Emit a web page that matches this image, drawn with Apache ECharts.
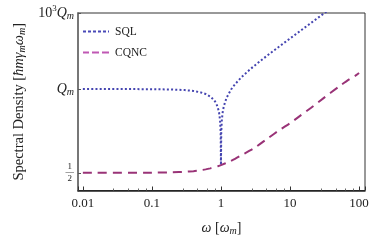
<!DOCTYPE html>
<html><head><meta charset="utf-8">
<script src="https://cdn.jsdelivr.net/npm/echarts@6/dist/echarts.min.js"></script>
<style>html,body{margin:0;padding:0;background:#fff}#c{width:374px;height:243px}</style>
</head><body><div id="c"></div>
<script>
// ---- data ----
const sqlOmega = [0.01, 0.05, 0.1, 0.2, 0.3, 0.4, 0.5, 0.6, 0.7, 0.8, 0.85, 0.9, 0.94, 0.97, 0.99, 1.0, 1.01, 1.03, 1.06, 1.1, 1.2, 1.4, 1.6, 2, 2.6, 3, 4, 5, 7, 10, 15, 20, 30, 40];
const sqlValues = [1000, 998, 990, 960, 910, 840, 750, 640, 510, 360, 278, 190, 116, 59, 20, 1, 20, 61, 124, 210, 440, 960, 1560, 3000, 5800, 8000, 15000, 24000, 48000, 99000, 224000, 400000, 900000, 1600000];
const cqncOmega = [0.01, 0.1, 0.2, 0.3, 0.4, 0.5, 0.6, 0.7, 0.8, 0.9, 1, 1.3, 1.6, 2, 3, 5, 7, 10, 12.5, 20, 30, 50, 70, 92, 100];
const cqncValues = [0.5, 0.505, 0.52, 0.545, 0.58, 0.625, 0.68, 0.745, 0.82, 0.905, 1.0, 1.35, 1.78, 2.5, 4.6, 12.5, 24, 45, 70, 180, 420, 1200, 2300, 3600, 4300];
const xTickLabels = ['0.01', '0.1', '1', '10', '100'];
const yLabelValues = [0.5, 1000, 1000000];
const seriesNames = ['SQL', 'CQNC'];

const serif = 'Liberation Serif';
const chart = echarts.init(document.getElementById('c'), null, {renderer: 'canvas'});
function yLabel(v) {
  if (Math.abs(v - 0.5) < 1e-6) return '{fr|1}\n{bar|──}\n{fr|2}';
  if (Math.abs(v - 1000) < 1e-3) return '{q|Q}{sub|m}';
  if (Math.abs(v - 1e6) < 1) return '{n|10}{sup|3}{q|Q}{sub|m}';
  return '';
}
const dotIcon = 'path://M0,0h3v2h-3zM5,0h3v2h-3zM10,0h3v2h-3zM15,0h3v2h-3zM20,0h3v2h-3zM25,0h1v2h-1z';
const dashIcon = 'path://M0,0h6v2h-6zM9,0h7v2h-7zM19,0h7v2h-7z';
chart.setOption({
  animation: false,
  grid: {left: 78, right: 9, top: 13, bottom: 52.5, show: true, borderColor: '#333', borderWidth: 1},
  legend: {
    orient: 'vertical', left: 83, top: 25.5, padding: 0, itemWidth: 26, itemHeight: 2, itemGap: 9,
    textStyle: {fontFamily: serif, fontSize: 11.5, color: '#222', padding: [0, 0, 0, 1]},
    data: [
      {name: seriesNames[0], icon: dotIcon, itemStyle: {color: '#4a4ab8'}},
      {name: seriesNames[1], icon: dashIcon, itemStyle: {color: '#c058b4'}}
    ]
  },
  xAxis: {
    type: 'log', logBase: 10, min: 0.0085, max: 122,
    axisLine: {lineStyle: {color: '#222', width: 1.5}},
    axisTick: {inside: true, length: 4, lineStyle: {color: '#333'}},
    minorTick: {show: true, splitNumber: 5, length: 2, lineStyle: {color: '#666'}},
    splitLine: {show: false},
    axisLabel: {fontFamily: serif, fontSize: 13, color: '#222', margin: 7,
      formatter: function (v) { const i = Math.round(Math.log10(v)) + 2; return xTickLabels[i] !== undefined ? xTickLabels[i] : ''; }},
    name: '{w|ω} {b|[}{w|ω}{s|m}{b|]}', nameLocation: 'middle', nameGap: 30,
    nameTextStyle: {fontFamily: serif, fontSize: 14, color: '#222',
      rich: {w: {fontFamily: serif, fontStyle: 'italic', fontSize: 14}, b: {fontFamily: serif, fontSize: 14},
             s: {fontFamily: serif, fontStyle: 'italic', fontSize: 10, padding: [6, 0, 0, 0]}}}
  },
  yAxis: {
    type: 'log', logBase: 10, min: 0.1, max: 1000000,
    axisLine: {lineStyle: {color: '#777', width: 2}},
    axisTick: {inside: true, length: 3, customValues: yLabelValues, lineStyle: {color: '#555'}},
    splitLine: {show: false},
    axisLabel: {
      customValues: yLabelValues, margin: 4, color: '#222', fontFamily: serif,
      formatter: yLabel,
      rich: {
        fr: {fontFamily: serif, fontSize: 9, lineHeight: 9, align: 'center'},
        bar: {fontFamily: serif, fontSize: 6, lineHeight: 3, align: 'center'},
        q: {fontFamily: serif, fontStyle: 'italic', fontSize: 14},
        sub: {fontFamily: serif, fontStyle: 'italic', fontSize: 10, padding: [7, 0, 0, 0]},
        n: {fontFamily: serif, fontSize: 14},
        sup: {fontFamily: serif, fontSize: 9, padding: [0, 0, 8, 0]}
      }
    },
    name: 'Spectral Density [{i|ħm}{g|γ}{s|m}{g|ω}{s|m}]', nameLocation: 'middle', nameGap: 44, nameRotate: 90,
    nameTextStyle: {fontFamily: serif, fontSize: 14.5, color: '#222',
      rich: {i: {fontFamily: serif, fontStyle: 'italic', fontSize: 14.5}, g: {fontFamily: serif, fontStyle: 'italic', fontSize: 14.5},
             s: {fontFamily: serif, fontStyle: 'italic', fontSize: 10, padding: [6, 0, 0, 0]}}}
  },
  series: [
    {name: 'SQL', type: 'line', symbol: 'none', clip: true,
     data: sqlOmega.map((w, i) => [w, sqlValues[i]]),
     lineStyle: {color: '#4444b0', width: 2, type: [2, 2.2]}, itemStyle: {color: '#4a4ab8'}},
    {name: 'CQNC', type: 'line', symbol: 'none', clip: true, smooth: 0.2,
     data: cqncOmega.map((w, i) => [w, cqncValues[i]]),
     lineStyle: {color: '#993377', width: 2, type: [9, 6]}, itemStyle: {color: '#c058b4'}}
  ]
});
</script></body></html>
